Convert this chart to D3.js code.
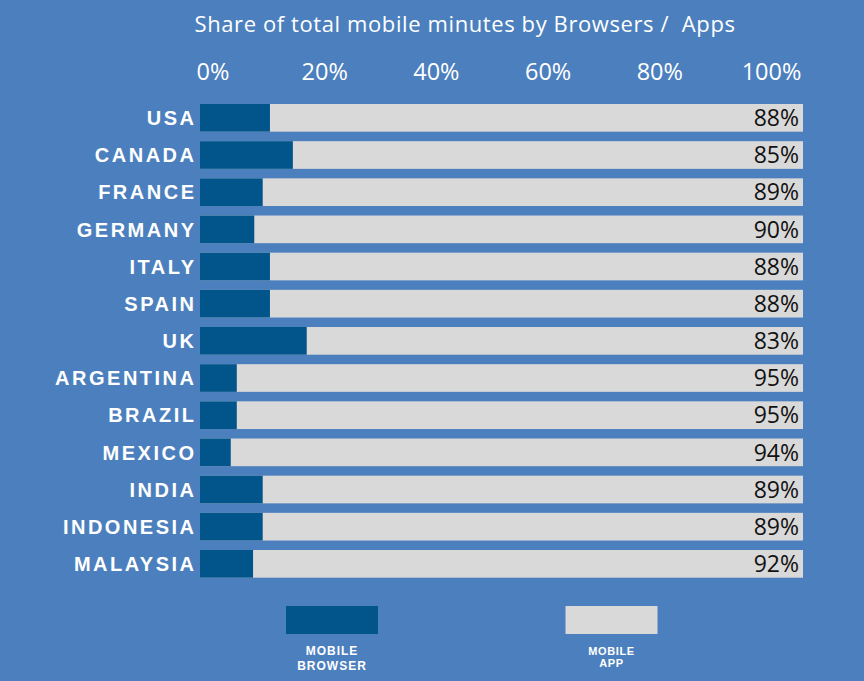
<!DOCTYPE html>
<html>
<head>
<meta charset="utf-8">
<script src="https://cdn.jsdelivr.net/npm/d3@7"></script>
<style>
  html, body { margin: 0; padding: 0; background: #4c7fbd; }
  svg { display: block; }
</style>
</head>
<body>
<svg id="chart" width="864" height="681"></svg>
<script>
const countries = ["USA","CANADA","FRANCE","GERMANY","ITALY","SPAIN","UK","ARGENTINA","BRAZIL","MEXICO","INDIA","INDONESIA","MALAYSIA"];
const browserShare = [11.6, 15.4, 10.4, 9.0, 11.6, 11.6, 17.7, 6.1, 6.1, 5.1, 10.4, 10.4, 8.8];
const appLabels = [88, 85, 89, 90, 88, 88, 83, 95, 95, 94, 89, 89, 92];
const tickValues = [0, 20, 40, 60, 80, 100];
const titleText = "Share of total mobile minutes by Browsers /  Apps";
const legendItems = [
  {key: "browser", lines: ["MOBILE", "BROWSER"]},
  {key: "app", lines: ["MOBILE", "APP"]}
];

const colors = {bg: "#4c7fbd", browser: "#02558a", app: "#d9d9d9"};
const svg = d3.select("#chart");
svg.append("rect").attr("width", 864).attr("height", 681).attr("fill", colors.bg);

const x = d3.scaleLinear().domain([0, 100]).range([200, 803]);
const y = d3.scaleBand().domain(countries).range([104, 577.7]).paddingInner(0.255).paddingOuter(0);

// title
svg.append("text")
  .attr("x", 465).attr("y", 32)
  .attr("text-anchor", "middle")
  .attr("fill", "#ffffff")
  .attr("xml:space", "preserve")
  .style("white-space", "pre")
  .style("font-family", "'Open Sans', 'Noto Sans', sans-serif")
  .style("font-size", "22px")
  .style("letter-spacing", "0.6px")
  .text(titleText);

// top axis labels (positioned by their own scale)
const xt = d3.scaleLinear().domain([0, 100]).range([212.5, 771]);
const axis = d3.axisTop(xt).tickValues(tickValues).tickFormat(d => d + "%").tickSize(0).tickPadding(0);
const ag = svg.append("g").attr("transform", "translate(0,79.5)").call(axis);
ag.select(".domain").remove();
ag.selectAll("text")
  .attr("fill", "#ffffff")
  .style("font-family", "'Open Sans', 'Noto Sans', sans-serif")
  .style("font-size", "23.5px");

// rows
const rows = svg.append("g").selectAll("g").data(countries).join("g");
// app (light) full bar
rows.append("rect")
  .attr("x", x(0)).attr("y", d => y(d))
  .attr("width", x(100) - x(0)).attr("height", y.bandwidth())
  .attr("fill", colors.app);
// browser bar
rows.append("rect")
  .attr("x", x(0)).attr("y", d => y(d))
  .attr("width", (d, i) => x(browserShare[i]) - x(0)).attr("height", y.bandwidth())
  .attr("fill", colors.browser);
// value labels
rows.append("text")
  .attr("x", x(100) - 4).attr("y", d => y(d) + y.bandwidth() / 2)
  .attr("dy", "0.36em")
  .attr("text-anchor", "end")
  .attr("fill", "#111111")
  .style("font-family", "'Open Sans', 'Noto Sans', sans-serif")
  .style("font-size", "23px")
  .text((d, i) => appLabels[i] + "%");
// country labels
rows.append("text")
  .attr("x", 196.5).attr("y", d => y(d) + y.bandwidth() / 2)
  .attr("dy", "0.36em")
  .attr("text-anchor", "end")
  .attr("fill", "#ffffff")
  .style("font-family", "'Liberation Sans', Arial, sans-serif")
  .style("font-weight", "bold")
  .style("font-size", "20px")
  .style("letter-spacing", "2.5px")
  .text(d => d);

// legend
const legX = d3.scalePoint().domain(legendItems.map(d => d.key)).range([332, 611.5]);
const lg = svg.append("g").selectAll("g").data(legendItems).join("g")
  .attr("transform", d => `translate(${legX(d.key)},0)`);
lg.append("rect")
  .attr("x", -46).attr("y", 606).attr("width", 92).attr("height", 28)
  .attr("fill", d => colors[d.key]);
lg.each(function(d) {
  const g = d3.select(this);
  const fs = d.key === "browser" ? 12 : 11;
  const lh = d.key === "browser" ? 15 : 12;
  d.lines.forEach((t, j) => {
    g.append("text")
      .attr("x", 0).attr("y", 655 + j * lh)
      .attr("text-anchor", "middle")
      .attr("fill", "#ffffff")
      .style("font-family", "'Liberation Sans', Arial, sans-serif")
      .style("font-weight", "bold")
      .style("font-size", fs + "px")
      .style("letter-spacing", d.key === "browser" ? "1px" : "0.6px")
      .text(t);
  });
});
</script>
</body>
</html>
